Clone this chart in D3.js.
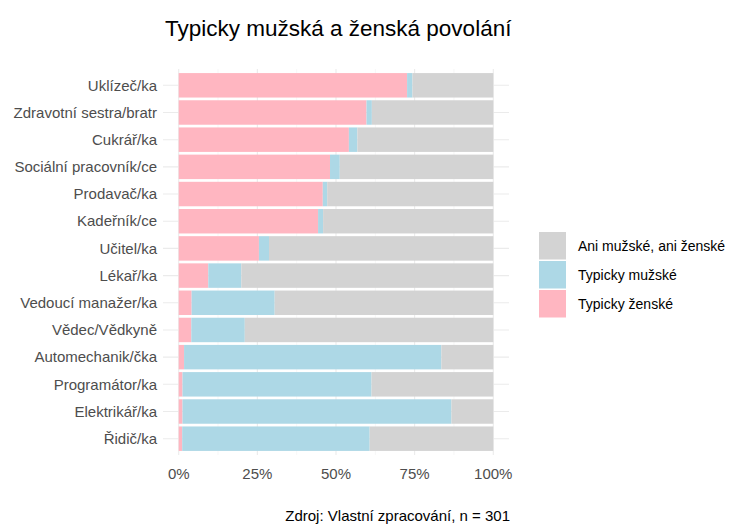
<!DOCTYPE html>
<html>
<head>
<meta charset="utf-8">
<script src="https://cdn.jsdelivr.net/npm/d3@7"></script>
<style>
  body { margin: 0; background: #fff; }
  text { font-family: "Liberation Sans", Arial, sans-serif; }
</style>
</head>
<body>
<script>
"use strict";

// data (percent of respondents, n = 301)
var categories = ["Uklízeč/ka", "Zdravotní sestra/bratr", "Cukrář/ka", "Sociální pracovník/ce",
  "Prodavač/ka", "Kadeřník/ce", "Učitel/ka", "Lékař/ka", "Vedoucí manažer/ka", "Vědec/Vědkyně",
  "Automechanik/čka", "Programátor/ka", "Elektrikář/ka", "Řidič/ka"];
var zenske = [72.6, 59.7, 54.1, 48.1, 45.8, 44.3, 25.5, 9.4, 4.1, 4.0, 1.7, 1.2, 1.2, 1.1];
var muzske = [1.7, 1.7, 2.7, 3.1, 1.4, 1.6, 3.2, 10.5, 26.4, 17.0, 81.8, 60.1, 85.5, 59.6];
var ani = categories.map((c, i) => +(100 - zenske[i] - muzske[i]).toFixed(1));

var xTicks = [0, 25, 50, 75, 100];
var xMinor = [12.5, 37.5, 62.5, 87.5];

var legendLabels = ["Ani mužské, ani ženské", "Typicky mužské", "Typicky ženské"];
var keys = ["ani", "muzske", "zenske"];
var colors = { ani: "#d3d3d3", muzske: "#add8e6", zenske: "#ffb6c1" };

var width = 734, height = 527;
var panel = { left: 163, right: 509, top: 69, bottom: 455 };

var rows = categories.map((c, i) => ({ cat: c, zenske: zenske[i], muzske: muzske[i], ani: ani[i] }));

var svg = d3.select("body").append("svg")
  .attr("width", width)
  .attr("height", height);

var x = d3.scaleLinear()
  .domain([-5, 105])
  .range([panel.left, panel.right]);

var y = d3.scalePoint()
  .domain(categories)
  .range([panel.top, panel.bottom])
  .padding(0.6);

var barH = y.step() * 0.9;

// grid
var grid = svg.append("g");
grid.selectAll(".minor").data(xMinor).enter().append("line")
  .attr("x1", d => x(d)).attr("x2", d => x(d))
  .attr("y1", panel.top).attr("y2", panel.bottom)
  .attr("stroke", "#f2f2f2").attr("stroke-width", 0.6);
grid.selectAll(".major").data(xTicks).enter().append("line")
  .attr("x1", d => x(d)).attr("x2", d => x(d))
  .attr("y1", panel.top).attr("y2", panel.bottom)
  .attr("stroke", "#ebebeb").attr("stroke-width", 1.1);
grid.selectAll(".hmajor").data(categories).enter().append("line")
  .attr("x1", panel.left).attr("x2", panel.right)
  .attr("y1", d => y(d)).attr("y2", d => y(d))
  .attr("stroke", "#ebebeb").attr("stroke-width", 1.1);

// stacked bars: ženské from 0, then mužské, then the rest
var stack = d3.stack().keys(["zenske", "muzske", "ani"]);
var series = stack(rows);

svg.append("g")
  .selectAll("g")
  .data(series)
  .enter().append("g")
    .attr("fill", d => colors[d.key])
  .selectAll("rect")
  .data(d => d)
  .enter().append("rect")
    .attr("x", d => x(d[0]))
    .attr("width", d => x(d[1]) - x(d[0]))
    .attr("y", d => y(d.data.cat) - barH / 2)
    .attr("height", barH);

// y axis labels
svg.append("g")
  .selectAll("text")
  .data(categories)
  .enter().append("text")
    .attr("x", 157)
    .attr("y", d => y(d))
    .attr("dy", "0.35em")
    .attr("text-anchor", "end")
    .attr("font-size", 15)
    .attr("fill", "#4d4d4d")
    .text(d => d);

// x axis labels
svg.append("g")
  .selectAll("text")
  .data(xTicks)
  .enter().append("text")
    .attr("x", d => x(d))
    .attr("y", 474)
    .attr("dy", "0.35em")
    .attr("text-anchor", "middle")
    .attr("font-size", 15)
    .attr("fill", "#4d4d4d")
    .text(d => d + "%");

// title
svg.append("text")
  .attr("x", 165)
  .attr("y", 36)
  .attr("font-size", 22.5)
  .attr("fill", "#000")
  .text("Typicky mužská a ženská povolání");

// caption
svg.append("text")
  .attr("x", 510)
  .attr("y", 521)
  .attr("text-anchor", "end")
  .attr("font-size", 15)
  .attr("fill", "#000")
  .text("Zdroj: Vlastní zpracování, n = 301");

// legend
var legend = svg.append("g").attr("transform", "translate(539,232)");
var item = legend.selectAll("g")
  .data(keys)
  .enter().append("g")
    .attr("transform", (d, i) => "translate(0," + (i * 29) + ")");
item.append("rect")
  .attr("width", 27).attr("height", 27.5)
  .attr("fill", d => colors[d]);
item.append("text")
  .attr("x", 39)
  .attr("y", 14)
  .attr("dy", "0.35em")
  .attr("font-size", 14)
  .attr("fill", "#000")
  .text((d, i) => legendLabels[i]);
</script>
</body>
</html>
